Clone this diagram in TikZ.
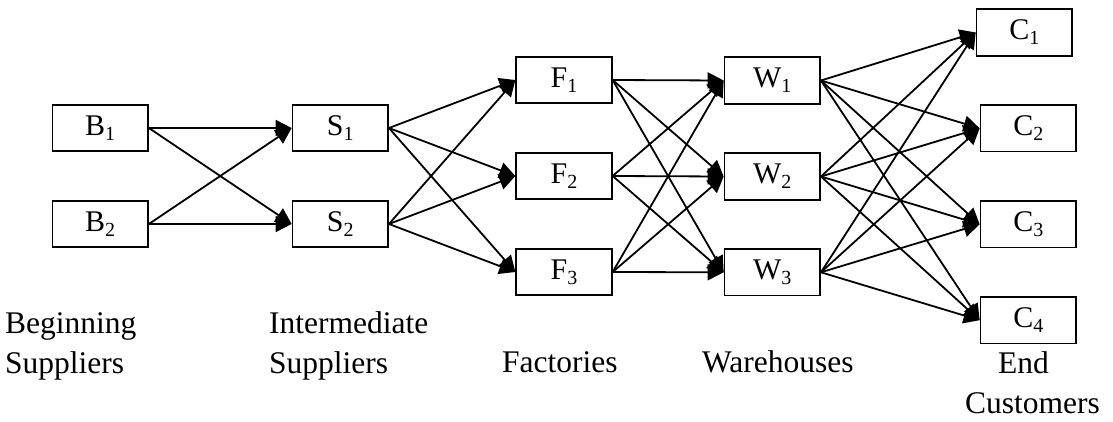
\documentclass[tikz,border=0pt]{standalone}
\usepackage{fontspec}
\setmainfont{Liberation Serif}
\usetikzlibrary{arrows.meta}
% lowered index digit inside a stage box
\newcommand{\lowsub}[1]{\raisebox{-5pt}{\fontsize{20}{20}\selectfont #1}}
\begin{document}
\begin{tikzpicture}[x=1pt,y=-1pt,
  stage/.style={draw, line width=1.8pt, minimum width=95.5pt, minimum height=46.5pt,
    inner sep=0pt, font=\fontsize{30}{30}\selectfont},
  flow/.style={line width=1.8pt, -{Triangle[length=16pt,width=16pt]}},
  caption/.style={font=\fontsize{31.5}{40}\selectfont, inner sep=0pt, align=left, anchor=base west}]
\useasboundingbox (0,0) rectangle (1113,421);

% beginning suppliers
\node[stage] (B1) at (100.2,128) {B\lowsub{1}};
\node[stage] (B2) at (100.2,224) {B\lowsub{2}};
% intermediate suppliers
\node[stage] (S1) at (340.3,128) {S\lowsub{1}};
\node[stage] (S2) at (340.3,224) {S\lowsub{2}};
% factories
\node[stage] (F1) at (564,80) {F\lowsub{1}};
\node[stage] (F2) at (564,176) {F\lowsub{2}};
\node[stage] (F3) at (564,272) {F\lowsub{3}};
% warehouses
\node[stage] (W1) at (772.3,80.5) {W\lowsub{1}};
\node[stage] (W2) at (772.3,176.5) {W\lowsub{2}};
\node[stage] (W3) at (772.3,272.3) {W\lowsub{3}};
% end customers
\node[stage] (C1) at (1024.3,32.5) {C\lowsub{1}};
\node[stage] (C2) at (1028.3,128.3) {C\lowsub{2}};
\node[stage] (C3) at (1028.3,224.3) {C\lowsub{3}};
\node[stage] (C4) at (1028.3,320.2) {C\lowsub{4}};

% every stage feeds every node of the next stage
\foreach \s in {B1,B2} \foreach \t in {S1,S2} \draw[flow] (\s.east) -- (\t.west);
\foreach \s in {S1,S2} \foreach \t in {F1,F2,F3} \draw[flow] (\s.east) -- (\t.west);
\foreach \s in {F1,F2,F3} \foreach \t in {W1,W2,W3} \draw[flow] (\s.east) -- (\t.west);
\foreach \s in {W1,W2,W3} \foreach \t in {C1,C2,C3,C4} \draw[flow] (\s.east) -- (\t.west);

% stage captions (anchored on the baseline of their last line)
\node[caption] (capB) at (5,373) {Beginning\\Suppliers};
\node[caption] (capS) at (269,373) {Intermediate\\Suppliers};
\node[caption] (capF) at (502,372) {Factories};
\node[caption] (capW) at (702,372) {Warehouses};
\node[caption] (capC) at (965,413) {\hspace*{33pt}End\\Customers};
\end{tikzpicture}
\end{document}
